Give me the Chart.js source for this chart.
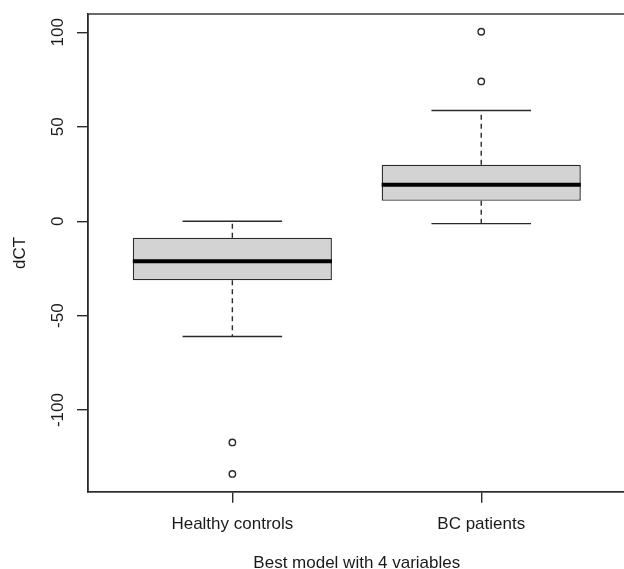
<!DOCTYPE html>
<html>
<head>
<meta charset="utf-8">
<script src="https://cdn.jsdelivr.net/npm/chart.js"></script>
<style>
  html, body { margin: 0; padding: 0; background: #fff; overflow: hidden; }
  #wrap { width: 624px; height: 569px; overflow: hidden; }
</style>
</head>
<body>
<div id="wrap"><canvas id="chart" width="631" height="569"></canvas></div>
<script>
// Box plot summary
const groups = ['Healthy controls', 'BC patients'];
const groupPos = [1, 2];
const lowerWhisker = [-61.0, -1.3];
const q1 = [-31.3, 10.8];
const median = [-21.2, 19.3];
const q3 = [-8.7, 29.9];
const upperWhisker = [0, 58.6];
const outliersHealthy = [-117.1, -133.8];
const outliersBC = [74.0, 100.3];
const yTicks = [-100, -50, 0, 50, 100];

const lineColor = '#2b2b2b';
const textColor = '#1a1a1a';
const fontFamily = '"Liberation Sans", Arial, sans-serif';

// box data as floating bars
const boxData = groupPos.map((x, i) => ({ x: x, y: [q1[i], q3[i]] }));
const outlierData = [
  ...outliersHealthy.map(v => ({ x: groupPos[0], y: v })),
  ...outliersBC.map(v => ({ x: groupPos[1], y: v }))
];

// whiskers, medians and the frame
const boxExtras = {
  id: 'boxExtras',
  afterDatasetsDraw(chart) {
    const ctx = chart.ctx;
    const xs = chart.scales.x;
    const ys = chart.scales.y;
    const boxW = xs.getPixelForValue(1.4) - xs.getPixelForValue(1);
    ctx.save();
    groupPos.forEach((pos, i) => {
      const cx = xs.getPixelForValue(pos);
      // dashed whiskers
      ctx.strokeStyle = lineColor;
      ctx.lineWidth = 1.4;
      ctx.setLineDash([5, 4]);
      ctx.beginPath();
      ctx.moveTo(cx, ys.getPixelForValue(q3[i]));
      ctx.lineTo(cx, ys.getPixelForValue(upperWhisker[i]));
      ctx.moveTo(cx, ys.getPixelForValue(q1[i]));
      ctx.lineTo(cx, ys.getPixelForValue(lowerWhisker[i]));
      ctx.stroke();
      // caps
      ctx.setLineDash([]);
      const capHalf = boxW / 2;
      ctx.beginPath();
      [upperWhisker[i], lowerWhisker[i]].forEach(v => {
        const y = ys.getPixelForValue(v);
        ctx.moveTo(cx - capHalf, y);
        ctx.lineTo(cx + capHalf, y);
      });
      ctx.stroke();
      // median
      ctx.strokeStyle = '#000';
      ctx.lineWidth = 4;
      const my = ys.getPixelForValue(median[i]);
      ctx.beginPath();
      ctx.moveTo(cx - boxW, my);
      ctx.lineTo(cx + boxW, my);
      ctx.stroke();
    });
    // frame
    const a = chart.chartArea;
    ctx.strokeStyle = lineColor;
    ctx.lineWidth = 1.4;
    ctx.strokeRect(a.left, a.top, a.right - a.left, a.bottom - a.top);
    ctx.restore();
  }
};

new Chart(document.getElementById('chart'), {
  type: 'bar',
  data: {
    datasets: [
      {
        type: 'bar',
        data: boxData,
        backgroundColor: '#d3d3d3',
        borderColor: lineColor,
        borderWidth: 1.4,
        borderSkipped: false,
        categoryPercentage: 0.8,
        barPercentage: 1.0
      },
      {
        type: 'scatter',
        data: outlierData,
        pointStyle: 'circle',
        pointRadius: 3.2,
        backgroundColor: 'rgba(0,0,0,0)',
        borderColor: lineColor,
        borderWidth: 1.4
      }
    ]
  },
  options: {
    responsive: false,
    animation: false,
    layout: { padding: { top: 14, right: 1.5, left: 0, bottom: 0 } },
    plugins: { legend: { display: false }, tooltip: { enabled: false } },
    scales: {
      x: {
        type: 'linear',
        offset: false,
        min: 0.42,
        max: 2.58,
        afterBuildTicks: axis => { axis.ticks = groupPos.map(v => ({ value: v })); },
        afterFit: axis => { axis.height = 77.3; },
        ticks: {
          callback: v => groups[groupPos.indexOf(v)] || '',
          color: textColor,
          font: { family: fontFamily, size: 17 },
          padding: 11,
          maxRotation: 0,
          autoSkip: false
        },
        grid: { offset: false, drawOnChartArea: false, drawTicks: true, tickLength: 11, color: lineColor, lineWidth: 1.4 },
        border: { display: true, color: lineColor, width: 1.4 },
        title: {
          display: true,
          text: 'Best model with 4 variables',
          color: textColor,
          font: { family: fontFamily, size: 17, lineHeight: 0.65 },
          padding: { top: 0, bottom: 0 }
        }
      },
      y: {
        min: -143.2,
        max: 109.7,
        afterBuildTicks: axis => { axis.ticks = yTicks.map(v => ({ value: v })); },
        afterFit: axis => { axis.width = 88; },
        ticks: {
          color: textColor,
          font: { family: fontFamily, size: 17 },
          minRotation: 90,
          maxRotation: 90,
          crossAlign: 'center',
          padding: 2
        },
        grid: { drawOnChartArea: false, drawTicks: true, tickLength: 11, color: lineColor, lineWidth: 1.4 },
        border: { display: true, color: lineColor, width: 1.4 },
        title: {
          display: true,
          text: 'dCT',
          color: textColor,
          font: { family: fontFamily, size: 17, lineHeight: 1.2 },
          padding: { top: 10, bottom: 0 }
        }
      }
    }
  },
  plugins: [boxExtras]
});
</script>
</body>
</html>
